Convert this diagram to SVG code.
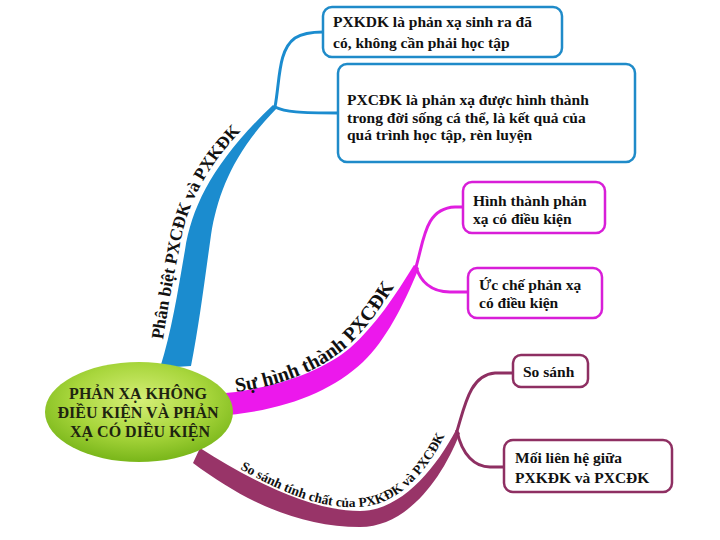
<svg xmlns="http://www.w3.org/2000/svg" xmlns:xlink="http://www.w3.org/1999/xlink" width="720" height="540" viewBox="0 0 720 540">
<style>
.bt{font-family:"Liberation Serif","Times New Roman",serif;font-weight:bold;font-size:15.5px;fill:#111}
.lb{font-family:"Liberation Serif","Times New Roman",serif;font-weight:bold;fill:#111}
.ct{font-family:"Liberation Serif","Times New Roman",serif;font-weight:bold;font-size:16px;fill:#1e2410;text-anchor:middle}
.box{fill:#fff;stroke-width:2.5}
.sub{fill:none;stroke-width:3;stroke-linecap:round}
</style>
<defs>
<radialGradient id="g" cx="50%" cy="38%" r="60%">
<stop offset="0" stop-color="#d6ef78"/>
<stop offset="0.6" stop-color="#a8d63c"/>
<stop offset="1" stop-color="#7cb81c"/>
</radialGradient>
<path id="p1" d="M163,340 C169,300 174,275 179,250 C186,205 207,165 245,127"/>
<path id="p2" d="M236,392 C280,386 322,370 349,345 C371,324 389,296 407,266"/>
<path id="p3" d="M240,469 C278,490 318,509 358,507 C396,506 426,475 447,431"/>
</defs>
<rect width="720" height="540" fill="#fff"/>
<g id="connectors">
<path fill="#1b8ccf" d="M160,368 C172,330 178,290 185,250 C192,205 215,160 273,105 L277,108 C234,152 218,192 211,235 C204,285 199,325 191,366 Z"/>
<path class="sub" stroke="#1b8ccf" d="M275,107 C280,80 278,50 295,38 C303,33 312,32 323,32"/>
<path class="sub" stroke="#1b8ccf" d="M275,107 C285,112 300,113 338,113"/>
<path fill="#ec18ec" d="M215,394 C270,390 320,373 350,348 C375,326 395,296 414,265 L419,268 C403,306 386,340 363,362 C330,393 280,412 215,416 Z"/>
<path class="sub" stroke="#e01ee0" d="M416,267 C424,240 425,208 455,207 L463,207"/>
<path class="sub" stroke="#e01ee0" d="M416,267 C420,280 430,292 450,292 L468,292"/>
<path fill="#983468" d="M200,448 C250,480 310,511 360,511 C400,511 435,470 456,430 L460,433 C441,481 406,527 360,527 C300,527 245,502 193,463 Z"/>
<path class="sub" stroke="#8e2f62" d="M457,431 C465,405 470,375 495,373 L513,373"/>
<path class="sub" stroke="#8e2f62" d="M457,431 C462,455 475,467 490,467 L504,467"/>
<text class="lb" font-size="17.5"><textPath xlink:href="#p1">Phân biệt PXCĐK và PXKĐK</textPath></text>
<text class="lb" font-size="20"><textPath xlink:href="#p2">Sự hình thành PXCĐK</textPath></text>
<text class="lb" font-size="13.5"><textPath xlink:href="#p3">So sánh tính chất của PXKĐK và PXCĐK</textPath></text>
</g>
<g id="center">
<ellipse cx="139" cy="412" rx="94" ry="50" fill="url(#g)"/>
<text class="ct" x="138" y="399">PHẢN XẠ KHÔNG</text>
<text class="ct" x="138" y="418">ĐIỀU KIỆN VÀ PHẢN</text>
<text class="ct" x="140" y="437">XẠ CÓ DIỀU KIỆN</text>
</g>
<g id="box1">
<rect class="box" stroke="#1f8bc9" x="323" y="7" width="239" height="50" rx="9"/>
<text class="bt" x="333" y="27">PXKDK là phản xạ sinh ra đã</text>
<text class="bt" x="333" y="48">có, không cần phải học tập</text>
</g>
<g id="box2">
<rect class="box" stroke="#1f8bc9" x="338" y="64" width="297" height="98" rx="9"/>
<text class="bt" x="347" y="105">PXCĐK là phản xạ được hình thành</text>
<text class="bt" x="347" y="123">trong đời sống cá thể, là kết quả của</text>
<text class="bt" x="347" y="140">quá trình học tập, rèn luyện</text>
</g>
<g id="box3">
<rect class="box" stroke="#d81ed8" x="463" y="182" width="142" height="51" rx="9"/>
<text class="bt" x="473" y="206">Hình thành phản</text>
<text class="bt" x="473" y="224">xạ có điều kiện</text>
</g>
<g id="box4">
<rect class="box" stroke="#d81ed8" x="468" y="268" width="134" height="50" rx="9"/>
<text class="bt" x="479" y="290">Ức chế phản xạ</text>
<text class="bt" x="479" y="308">có điều kiện</text>
</g>
<g id="box5">
<rect class="box" stroke="#8e2f62" x="513" y="355" width="75" height="32" rx="8"/>
<text class="bt" x="523" y="377">So sánh</text>
</g>
<g id="box6">
<rect class="box" stroke="#8e2f62" x="504" y="440" width="168" height="52" rx="9"/>
<text class="bt" x="515" y="463">Mối liên hệ giữa</text>
<text class="bt" x="515" y="483">PXKĐK và PXCĐK</text>
</g>
</svg>
